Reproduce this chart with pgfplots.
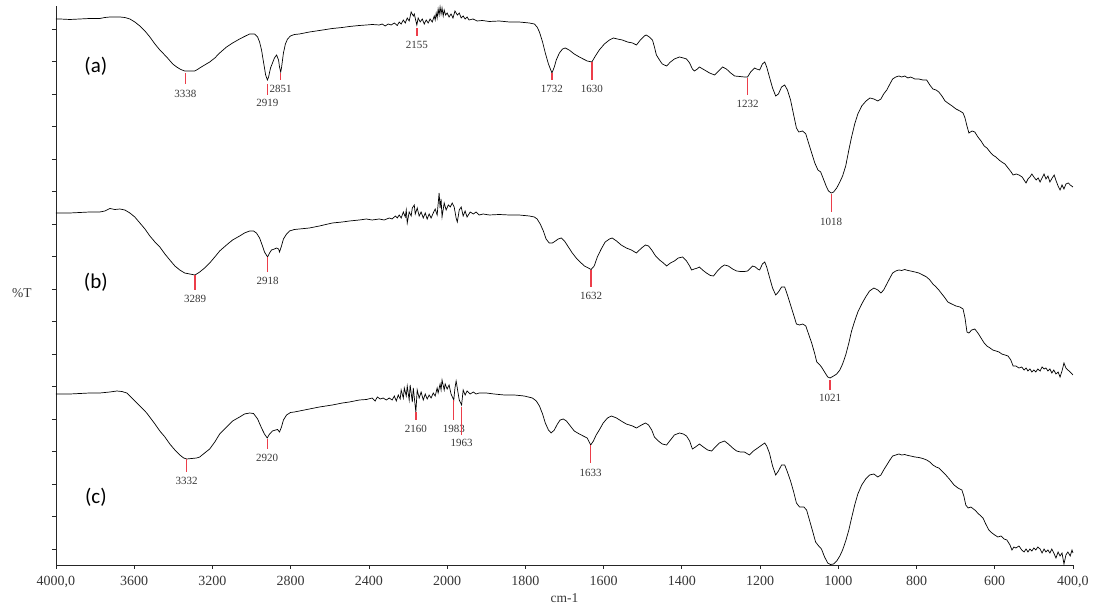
\documentclass[border=0pt]{standalone}
\usepackage{pgfplots}
\pgfplotsset{compat=1.18}
\usepackage{pgfplotstable}
\usepackage{fontspec}
\setmainfont{Liberation Serif}
\newfontfamily\panelfont{Carlito}

\definecolor{peakred}{RGB}{236,62,74}
\definecolor{txtgray}{RGB}{55,55,55}

% The wavenumber scale is compressed by 2 above 2000 cm-1
\newcommand\wn[1]{#1-max(#1-2000,0)/2}

% Peak marker: wavenumber, marker top, marker bottom, label centre
\newcommand\peak[4]{%
  \draw[peakred, line width=1.4pt] (axis cs:{\wn{#1}},#2) -- (axis cs:{\wn{#1}},#3);
  \node[font=\fontsize{11}{12}\selectfont, text=txtgray, inner sep=0pt]
    at (axis cs:{\wn{#1}},#4) {#1};}

% Spectrum (a)
\pgfplotstableread{
w T
4000 546
3980 546
3929 545.5
3878 546
3827 546.5
3776 546.5
3750 547.5
3724 548
3700 548
3673 548
3648 547.5
3622 546
3597 543
3571 539
3545 534
3520 528
3494 521
3469 515
3434 508
3403 501
3383 498
3362 495.5
3342 494
3316 494
3291 494
3281 495
3265 497
3240 500
3214 503
3188 507
3163 512
3128 518
3097 522
3061 526
3036 528.5
3010 531
2985 531
2969 528
2959 523
2949 515
2939 503
2928 490
2919 485
2913 488
2903 497
2893 502
2883 507
2872 510
2862 505
2857 498
2851 493
2847 497
2837 512
2827 521
2816 526
2801 529
2781 530.5
2755 531
2704 533
2653 534.5
2587 536.5
2536 537.5
2500 538.5
2449 539.5
2413 540
2383 540.5
2347 540
2332 541
2317 539
2301 541
2286 540
2270 542
2255 539.5
2245 543
2235 541
2224 545
2214 542
2204 547
2194 544
2184 553
2173 549
2168 551
2155 540
2148 547
2138 543
2127 546
2117 541
2107 545
2097 542
2087 546
2076 543
2066 549
2061 545
2056 552
2051 547
2046 556
2041 550
2036 558
2031 551
2026 557
2020 549
2015 555
2008 550
2000 552
1995 548
1990 551
1985 547
1980 554
1974 550
1969 552
1964 547
1959 549
1954 546
1949 548
1944 545
1934 546
1923 544
1910 544.5
1892 543.5
1867 544
1841 543
1816 543
1790 542
1777 541
1770 538
1764 533
1756 523
1749 512
1741 501
1732 492
1726 498
1721 505
1713 512
1705 516
1698 517
1688 515
1675 511
1662 508
1652 506
1642 504
1630 503
1621 509
1611 515
1598 521
1585 525
1575 527
1565 526
1552 525
1539 523
1526 522
1516 520
1506 525
1496 529
1491 530
1483 528
1475 525
1470 518
1465 510
1457 505
1450 501
1439 499
1429 503
1419 506
1406 508
1396 507
1388 506
1380 502
1373 496
1368 494
1360 496
1355 498
1342 495
1329 492
1316 490
1306 494
1296 498
1286 496
1275 492
1265 489
1252 488.5
1240 488
1232 488
1224 493
1214 497
1209 496
1201 495
1194 501
1188 503
1183 498
1176 488
1168 477
1160 469
1153 471
1145 478
1137 480
1130 475
1122 465
1114 450
1107 437
1101 433
1091 434
1083 431
1076 422
1068 412
1060 402
1052 395
1045 393
1037 385
1030 378
1025 374
1018 372
1012 373
1004 377
996 383
989 389
981 399
973 415
966 428
958 441
950 451
940 459
929 464
919 467
909 466
899 464
891 466
884 471
876 475
868 481
861 486
853 488
845 489
838 488
830 489
822 487
815 488
804 486
794 486
784 485
774 485
766 480
758 476
750 475
743 473
735 469
727 464
720 462
709 459
699 456
689 454
681 452
676 447
671 439
666 432
658 434
651 433
643 428
635 424
627 419
620 417
612 413
605 410
597 408
589 405
582 403
574 401
566 397
558 393
553 390
545 391
538 390
530 388
525 385
520 382
515 386
510 388
505 391
500 388
494 385
489 387
484 383
479 387
474 391
469 386
464 389
459 383
453 387
448 390
443 384
438 379
433 375
428 380
423 376
418 381
412 382
407 380
400 378
}\speca

% Spectrum (b)
\pgfplotstableread{
w T
4000 352
3929 352
3878 352.5
3827 353
3776 353
3750 354
3724 356.5
3699 355.5
3673 356
3648 355
3622 352
3597 348
3571 342
3545 336
3520 329
3494 323
3469 318
3443 311
3418 305
3392 299
3367 295
3342 292
3316 291
3289 290
3265 293
3240 297
3214 302
3188 308
3163 314
3128 320
3097 325
3061 329
3036 332
3010 334
2990 334
2975 332
2959 327
2944 319
2934 313
2918 308
2908 312
2898 315
2883 316
2872 317
2862 316
2857 313
2847 319
2837 326
2821 331
2806 334
2781 335.5
2755 336
2704 337
2653 339
2587 342
2536 343
2500 344
2449 345
2413 346
2383 345
2347 346
2322 345
2296 347
2281 346
2265 349
2255 347
2245 350
2235 347
2224 353
2214 348
2209 355
2204 342
2194 353
2184 349
2178 357
2168 360
2163 351
2153 357
2143 349
2133 353
2122 347
2112 352
2102 346
2092 351
2082 347
2071 352
2061 356
2051 350
2041 372
2036 357
2031 366
2026 348
2015 362
2005 355
1997 360
1992 358
1987 362
1982 358
1977 347
1974 343
1969 355
1964 358
1959 349
1954 354
1949 348
1941 353
1933 351
1926 353
1918 350
1908 351
1892 350
1867 350.5
1841 350
1816 350
1790 349
1777 348
1770 346
1762 341
1754 334
1747 326
1739 322
1731 322
1723 324
1716 326
1708 327
1700 324
1690 318
1680 312
1670 307
1660 303
1649 299
1639 297
1632 295.5
1624 299
1616 308
1606 316
1596 323
1585 326
1578 327
1567 324
1555 320
1542 317
1529 315
1516 312
1503 317
1493 320
1485 319
1477 315
1467 309
1457 305
1447 302
1439 299
1429 302
1419 304
1409 307
1398 308
1388 304
1380 299
1375 295
1368 296
1360 297
1355 298
1347 295
1337 292
1327 289.5
1319 289
1309 294
1299 298
1291 300
1281 299
1270 296
1260 294
1250 293.5
1240 293.5
1232 294
1224 297
1219 299
1212 298
1206 296
1201 295
1194 301
1188 303
1183 298
1176 288
1168 277
1160 270
1153 273
1145 278
1137 278
1130 270
1122 260
1114 250
1107 241
1099 240
1091 241
1083 239
1076 231
1068 222
1060 211
1055 203
1047 200
1043 198
1035 193
1027 188
1021 187
1012 189
1004 191
996 195
989 201
981 210
973 222
966 234
958 244
950 253
940 261
930 268
920 274
909 277
899 275
891 272
884 275
876 281
868 287
861 292
853 294
845 295
838 294.5
830 295.5
822 294.5
815 294
804 293
794 292
784 290
774 288
766 285
758 281
750 278
743 275
735 271
727 267
720 263
710 261
699 259
689 258
681 256
676 247
671 233
666 232
659 235
651 236
643 232
635 227
627 222
620 219
612 217
605 215
597 214
589 213
582 211
574 210
566 209
559 205
553 199
546 199
538 197
531 198
525 195
520 197
515 194
510 196
505 193
500 195
495 193
490 196
484 194
479 198
474 196
469 197
464 194
459 196
454 192
449 195
443.5 191
438 193
433 188
428 194
423 202
418 197
413 195
407 193
400 190
}\specb

% Spectrum (c)
\pgfplotstableread{
w T
4000 171
3929 171
3878 171.5
3827 172
3776 172
3724 173
3689 174
3663 173.5
3638 172
3607 166
3571 159
3536 152
3494 141
3469 134
3443 128
3418 121
3392 115
3367 110
3347 107
3332 106
3306 106.5
3281 107
3265 108
3240 112
3214 116
3188 123
3163 131
3128 138
3097 144
3061 148
3036 151
3010 152
2990 151.5
2969 146
2949 137
2934 131
2920 127
2908 131
2893 134
2877 135
2867 135.5
2857 133
2847 138
2837 145
2821 150
2801 152.5
2781 153
2755 154
2704 156
2653 158
2587 160
2536 162
2500 163
2449 165
2413 165.5
2383 167
2368 164
2357 168
2342 166
2327 167
2311 165
2296 167
2281 165
2270 169
2260 164
2250 170
2240 166
2235 175
2224 167
2219 177
2209 169
2204 179
2194 165
2189 180
2178 163
2173 177
2160 153
2153 175
2143 167
2133 173
2122 165
2112 171
2102 166
2092 170
2082 167
2071 172
2061 169
2051 177
2046 172
2036 181
2031 175
2026 185
2015 175
2010 181
2000 176
1995 180
1990 171
1983 165
1980 177
1977 184
1972 172
1969 165
1963 160
1959 175
1954 170
1949 174
1941 171
1933 173
1926 171
1918 172
1900 172
1880 171
1854 170
1828 170
1803 169
1782 167
1772 164
1764 159
1756 151
1749 142
1741 135
1734 132
1726 135
1718 141
1711 145
1703 146
1695 144
1685 139
1675 134
1662 131
1652 129
1642 127
1633 120
1626 124
1619 130
1611 135
1601 142
1590 147
1580 149
1567 147
1555 144
1542 141
1526 139
1516 137
1503 140
1493 142
1485 140
1477 135
1470 128
1460 124
1450 121
1439 120
1429 125
1419 130
1406 132
1396 131
1388 129
1380 124
1373 116
1365 118
1355 121
1345 118
1334 115
1324 114
1314 118
1304 122
1291 124
1281 121
1270 117
1260 114
1250 113
1240 113
1227 110
1217 114
1206 117
1199 119
1188 122
1183 119
1176 112
1168 99
1160 90
1153 94
1145 100
1137 100
1130 93
1122 84
1114 73
1107 62
1099 58
1088 58
1081 55
1073 44
1065 33
1058 23
1050 19
1043 16
1035 8
1027 2
1020 0.5
1012 1
1004 4
996 9
989 15
981 24
973 35
966 47
958 60
950 71
940 80
930 86
920 90
909 91
899 88
891 90
884 95
876 100
868 105
861 109
853 110
845 111
838 110
830 110.5
822 109.5
815 109
804 108
794 107.5
784 106.5
774 105
766 103
758 100
750 98
743 97
735 94
725 90
714 85
704 80
694 77
684 75
679 69
674 60
668 57
661 58
651 55
641 51
630 47
623 41
615 35
607 32
600 30
592 28
584 29
576 26
569 25
561 20
556 15
551 18
546 17
538 19
531 15
525 13
520 16
515 13
510 16
505 14
500 17
495 15
490 18
484 16
479 12
474 16
469 13
464 15
459 12
454 16
449 12
443.5 7
438 13
433 9
428 12
423 1
418 10
413 13
407 9
402.5 15
400 12
}\specc

\begin{document}
\begin{tikzpicture}
\useasboundingbox (-56pt,-42pt) rectangle (1037pt,565pt);
\begin{axis}[
  at={(0,0)}, anchor=south west,
  scale only axis, width=1017pt, height=559pt,
  x dir=reverse,
  xmin=400, xmax=3000, ymin=0, ymax=559,
  axis x line=bottom, axis y line=left,
  axis line style={-, line width=0.9pt, black!85},
  tick style={line width=0.8pt, black!85},
  tick align=outside, major tick length=4pt,
  xtick={400,600,800,1000,1200,1400,1600,1800,2000,2200,2400,2600,2800,3000},
  xticklabels={{400,0},600,800,1000,1200,1400,1600,1800,2000,2400,2800,3200,3600,{4000,0}},
  ytick={16,48.5,81,113.5,146,178.5,211,243.5,276,308.5,341,373.5,406,438.5,471,503.5,536},
  yticklabels={},
  xticklabel style={font=\fontsize{14}{16}\selectfont, text=txtgray, yshift=-4pt},
  xlabel={cm-1},
  every axis x label/.style={at={(axis description cs:0.5,0)}, anchor=center,
    yshift=-33pt, font=\fontsize{13.5}{15}\selectfont, text=txtgray},
  ylabel={\%T},
  every axis y label/.style={at={(axis description cs:0,0.5)}, anchor=center,
    xshift=-34pt, yshift=-8pt, font=\fontsize{13.5}{15}\selectfont, text=txtgray},
  clip=false,
]
\addplot[black, line width=0.7pt] table[x expr={\thisrow{w}-max(\thisrow{w}-2000,0)/2}, y=T] {\speca};
\addplot[black, line width=0.7pt] table[x expr={\thisrow{w}-max(\thisrow{w}-2000,0)/2}, y=T] {\specb};
\addplot[black, line width=0.7pt] table[x expr={\thisrow{w}-max(\thisrow{w}-2000,0)/2}, y=T] {\specc};

% panel names
\node[font=\panelfont\fontsize{21}{24}\selectfont] at (axis cs:{\wn{3796}},499) {(a)};
\node[font=\panelfont\fontsize{21}{24}\selectfont] at (axis cs:{\wn{3796}},283) {(b)};
\node[font=\panelfont\fontsize{21}{24}\selectfont] at (axis cs:{\wn{3796}},68) {(c)};

% peaks of (a)
\peak{3338}{492}{481}{471}
\peak{2919}{481}{470}{462}
\peak{2851}{492}{485}{476}
\peak{2155}{537}{529}{520}
\peak{1732}{492}{485}{476}
\peak{1630}{503}{485}{476}
\peak{1232}{487}{470}{461}
\peak{1018}{371}{353}{343}
% peaks of (b)
\peak{3289}{290}{275}{266}
\peak{2918}{308}{293}{284}
\peak{1632}{295}{278}{269}
\peak{1021}{185}{175}{167}
% peaks of (c)
\peak{3332}{106}{93}{84}
\peak{2920}{126}{116}{107}
\peak{2160}{153}{145}{136}
\peak{1983}{165}{145}{136}
\peak{1963}{158}{130}{122}
\peak{1633}{120}{102}{92}
\end{axis}
\end{tikzpicture}
\end{document}
